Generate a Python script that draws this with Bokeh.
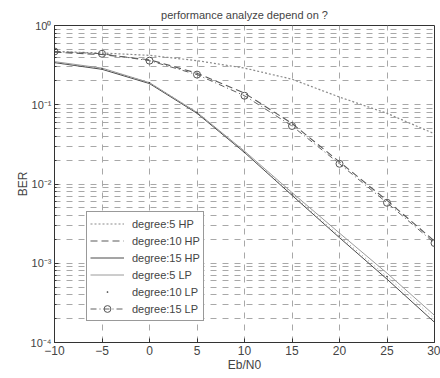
from bokeh.plotting import figure
from bokeh.models import FixedTicker, Legend, LegendItem
from bokeh.embed import file_html
from bokeh.resources import INLINE

# ---- data ----
ebn0 = [-10, -5, 0, 5, 10, 15, 20, 25, 30]
deg5_hp = [0.47, 0.45, 0.42, 0.36, 0.29, 0.21, 0.125, 0.078, 0.043]
deg10_hp = [0.46, 0.43, 0.37, 0.25, 0.14, 0.058, 0.019, 0.0062, 0.0019]
deg15_hp = [0.34, 0.28, 0.185, 0.078, 0.025, 0.0072, 0.0021, 0.00063, 0.00018]
deg5_lp = [0.35, 0.29, 0.19, 0.08, 0.026, 0.0078, 0.0024, 0.00075, 0.00022]
deg10_lp = [0.34, 0.285, 0.19, 0.08, 0.025, 0.0075, 0.0022, 0.00068, 0.0002]
deg15_lp = [0.47, 0.44, 0.36, 0.24, 0.13, 0.054, 0.018, 0.0058, 0.0018]

x_ticks = [-10, -5, 0, 5, 10, 15, 20, 25, 30]
y_ticks = [1.0, 0.1, 0.01, 0.001, 0.0001]
y_tick_labels = ["10\u2070", "10\u207b\u00b9", "10\u207b\u00b2", "10\u207b\u00b3", "10\u207b\u2074"]

FONT = "Liberation Sans"

p = figure(width=440, height=378, y_axis_type="log",
           x_range=(-10, 30), y_range=(1e-4, 1),
           output_backend="svg", toolbar_location=None,
           min_border_left=54, min_border_right=6,
           min_border_top=25, min_border_bottom=36,
           title="performance analyze depend on ?")
p.title.text_font = FONT
p.title.text_font_size = "11px"
p.title.text_font_style = "normal"
p.title.align = "center"
p.title.vertical_align = "bottom"
p.title.standoff = 10
p.title.offset = 0

p.outline_line_color = "#333333"
p.background_fill_color = "white"

# axes
p.xaxis.ticker = FixedTicker(ticks=x_ticks)
minor = [m * 10.0 ** e for e in range(-4, 0) for m in range(2, 10)]
p.yaxis.ticker = FixedTicker(ticks=y_ticks, minor_ticks=minor)
p.yaxis.major_label_overrides = {v: l for v, l in zip(y_ticks, y_tick_labels)}
p.xaxis.axis_label = "Eb/N0"
p.yaxis.axis_label = "BER"
for ax in (p.xaxis[0], p.yaxis[0]):
    ax.axis_label_text_font = FONT
    ax.axis_label_text_font_size = "12px"
    ax.axis_label_text_font_style = "normal"
    ax.major_label_text_font = FONT
    ax.major_label_text_font_size = "12px"
    ax.axis_line_color = "#333333"
    ax.major_tick_line_color = "#333333"
    ax.minor_tick_line_color = "#333333"
    ax.major_tick_in = 4
    ax.major_tick_out = 0
    ax.minor_tick_in = 2
    ax.minor_tick_out = 0
    ax.major_label_standoff = 3
    ax.axis_label_standoff = 0
p.yaxis.major_label_text_font_size = "11px"
p.yaxis.axis_label_standoff = -2

# grid
for g in (p.xgrid, p.ygrid):
    g.grid_line_color = "#a8a8a8"
    g.grid_line_dash = "6 6"
p.ygrid.minor_grid_line_color = "#a8a8a8"
p.ygrid.minor_grid_line_dash = "6 6"

# series
r1 = p.line(ebn0, deg5_hp, line_color="#8a8a8a", line_width=1.2, line_dash="2 2")
r2 = p.line(ebn0, deg10_hp, line_color="#5a5a5a", line_width=1.1, line_dash="7 4")
r3 = p.line(ebn0, deg15_hp, line_color="#4a4a4a", line_width=1.0)
r4 = p.line(ebn0, deg5_lp, line_color="#9a9a9a", line_width=1.0)
r5a = p.line(ebn0, deg10_lp, line_color="#808080", line_width=0.8, line_dash="1 3")
r5b = p.scatter(ebn0, deg10_lp, marker="dot", size=6, line_color="#333333", fill_color="#333333")
r6a = p.line(ebn0, deg15_lp, line_color="#606060", line_width=1.0, line_dash="6 3 1 3")
r6b = p.scatter(ebn0, deg15_lp, marker="circle", size=7, line_color="#555555", fill_color=None)

legend = Legend(items=[
    LegendItem(label="degree:5 HP", renderers=[r1]),
    LegendItem(label="degree:10 HP", renderers=[r2]),
    LegendItem(label="degree:15 HP", renderers=[r3]),
    LegendItem(label="degree:5 LP", renderers=[r4]),
    LegendItem(label="degree:10 LP", renderers=[r5b]),
    LegendItem(label="degree:15 LP", renderers=[r6a, r6b]),
], location=(32, 21))
legend.label_text_font = FONT
legend.label_text_font_size = "11px"
legend.glyph_width = 34
legend.glyph_height = 17
legend.label_height = 17
legend.label_standoff = 8
legend.spacing = 0
legend.padding = 3
legend.margin = 0
legend.border_line_color = "#333333"
legend.background_fill_color = "white"
legend.background_fill_alpha = 1
p.add_layout(legend, "center")

open("out.html", "w").write(file_html(p, INLINE))
